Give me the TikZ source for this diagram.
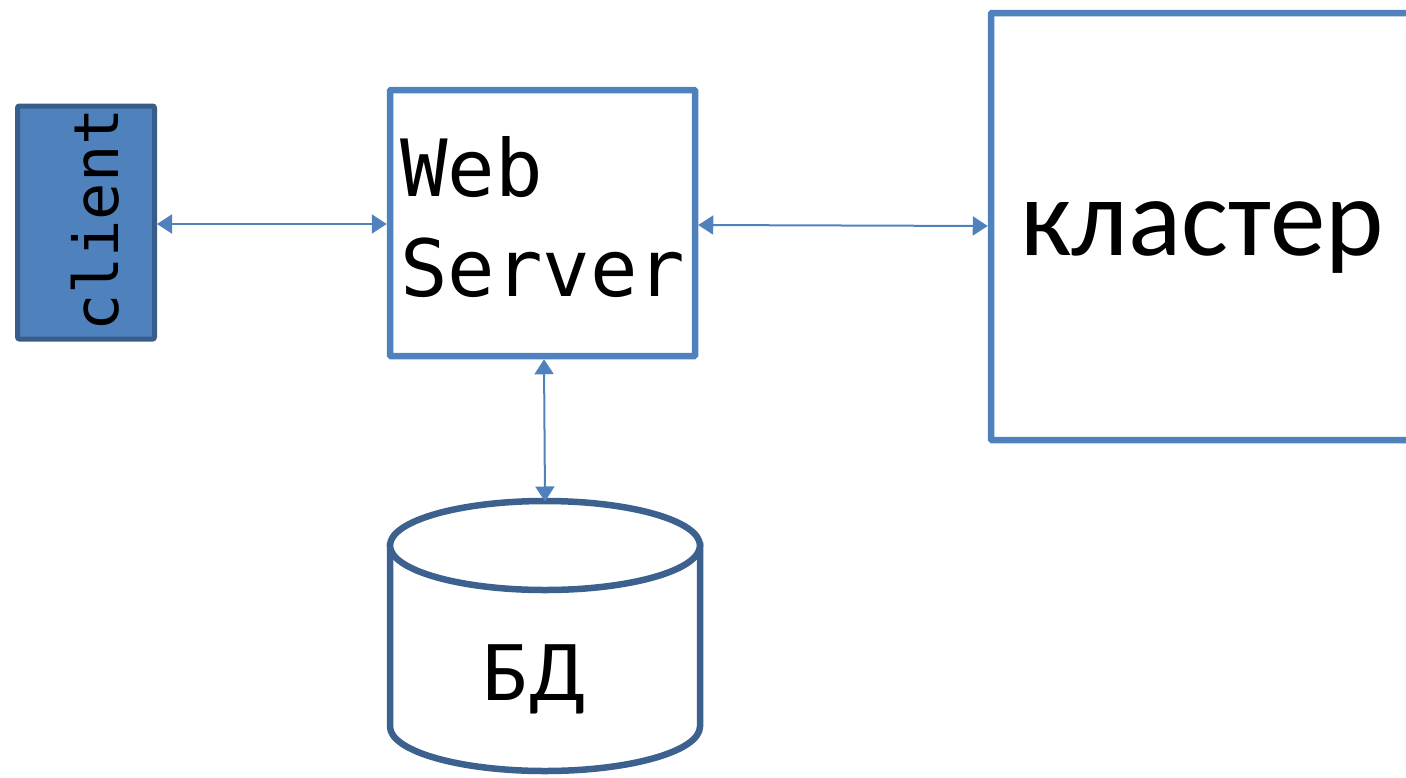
\documentclass[tikz,border=0pt]{standalone}
\usepackage{fontspec}
\usetikzlibrary{arrows.meta}
\newfontfamily\monofnt{DejaVu Sans Mono}
\newfontfamily\calfnt{Carlito}
\definecolor{boxblue}{HTML}{4F81BD}
\definecolor{darkblue}{HTML}{385D8A}
\definecolor{cylblue}{HTML}{3D618E}
\tikzset{
  box/.style={draw=boxblue, line width=6.5pt, fill=white, inner sep=0pt, rounded corners=1pt},
  clientbox/.style={draw=darkblue, line width=5pt, fill=boxblue, inner sep=0pt, rounded corners=2pt},
  dbarea/.style={inner sep=0pt, outer sep=0pt},
  cylline/.style={draw=cylblue, line width=6.5pt, fill=white},
  link/.style={draw=boxblue, line width=2pt, {Triangle[length=15pt,width=19pt]}-{Triangle[length=15pt,width=19pt]}},
  lbl/.style={inner sep=0pt, text=black}
}
\begin{document}
\begin{tikzpicture}[x=1pt,y=-1pt]
\useasboundingbox (0,0) rectangle (1406,777);
% client
\node[clientbox, minimum width=137pt, minimum height=233pt] (client) at (86,222.5) {};
\node[lbl, rotate=90, font=\monofnt\fontsize{62}{62}\selectfont] (clientlbl) at (95,220) {client};
% web server
\node[box, minimum width=305pt, minimum height=266pt] (web) at (542.5,223) {};
\node[lbl, anchor=north west, align=left, font=\monofnt\fontsize{79}{100}\selectfont] (weblbl) at (400,136) {Web\\Server};
% cluster
\node[box, minimum width=429pt, minimum height=427pt] (cluster) at (1205.5,226.5) {};
\node[lbl, anchor=base west, font=\calfnt\fontsize{111}{111}\selectfont] (clusterlbl) at (1020,255) {кластер};
% database (cylinder)
\node[dbarea, minimum width=310pt, minimum height=269pt] (db) at (545,636) {};
\path[cylline] (390,545.5) -- (390,726.5) arc[start angle=180, end angle=0, x radius=155, y radius=44.5] -- (700,545.5) -- cycle;
\draw[cylline] (545,545.5) ellipse[x radius=155, y radius=44.5];
\node[lbl, anchor=base, font=\calfnt\fontsize{87}{87}\selectfont] (dblbl) at (534,700) {БД};
% connectors
\draw[link] (client.east |- 0,224) -- (web.west |- 0,224);
\draw[link] (web.east |- 0,225) -- (cluster.west |- 0,226);
\draw[link] (web.south -| 544,0) -- (db.north -| 545,0);
\end{tikzpicture}
\end{document}
